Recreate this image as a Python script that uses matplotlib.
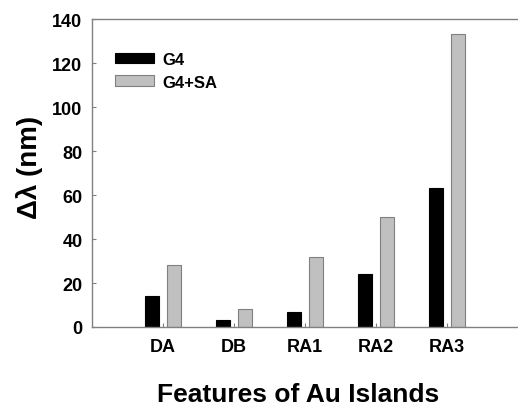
import matplotlib
matplotlib.use("Agg")
import matplotlib.pyplot as plt
import numpy as np

plt.rcParams["font.family"] = ["Liberation Sans", "DejaVu Sans"]
plt.rcParams["font.weight"] = "bold"

categories = ["DA", "DB", "RA1", "RA2", "RA3"]
g4 = [14, 3, 7, 24, 63]
g4_sa = [28, 8, 32, 50, 133]

SPINE = "#808080"

fig = plt.figure(figsize=(5.18, 4.10), dpi=100)
ax = fig.add_axes([0.178, 0.2, 0.822, 0.751])

x = np.arange(1, len(categories) + 1)
w = 0.2
off = 0.155
ax.bar(x - off, g4, w, color="black", edgecolor="black", lw=0.8, label="G4")
ax.bar(x + off, g4_sa, w, color="#c0c0c0", edgecolor="#808080", lw=0.8, label="G4+SA")

ax.set_xlim(0, 6)
ax.set_ylim(0, 140)
ax.set_yticks(range(0, 141, 20))
ax.set_xticks(x)
ax.set_xticklabels(categories)

for s in ["top", "left", "bottom"]:
    ax.spines[s].set_color(SPINE)
    ax.spines[s].set_linewidth(1.0)
ax.spines["right"].set_visible(False)

ax.tick_params(axis="both", direction="in", length=3, width=0.8, color=SPINE,
               labelsize=13, pad=8)
ax.tick_params(axis="y", pad=7)
for lab in ax.get_xticklabels() + ax.get_yticklabels():
    lab.set_fontweight("bold")

ax.set_xlabel("Features of Au Islands", fontsize=19, fontweight="bold")
ax.xaxis.set_label_coords(0.483, -0.18)
ax.set_ylabel("Δλ (nm)", fontsize=20, fontweight="bold")
ax.yaxis.set_label_coords(-0.116, 0.523)

ax.legend(loc="upper left", bbox_to_anchor=(0.053, 0.893), frameon=False,
          prop={"size": 12, "weight": "bold"}, handlelength=2.35,
          handleheight=0.6, handletextpad=0.5, labelspacing=0.45,
          borderpad=0, borderaxespad=0)

fig.savefig("out.png", dpi=100)
